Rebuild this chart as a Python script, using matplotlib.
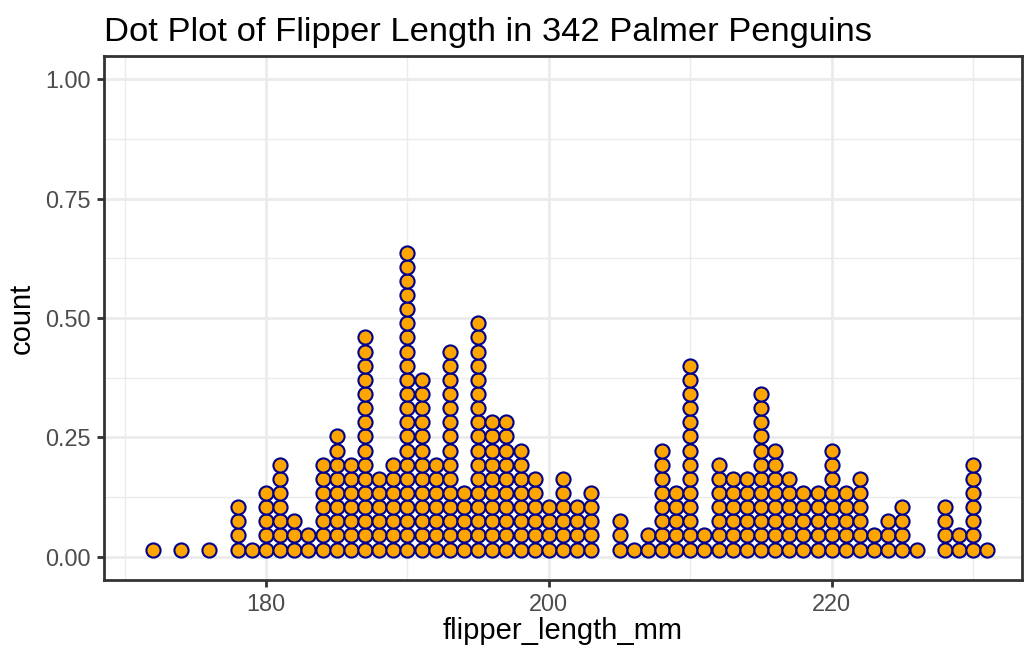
import numpy as np
import matplotlib
matplotlib.use("Agg")
import matplotlib.pyplot as plt
from matplotlib.ticker import MultipleLocator

plt.rcParams['font.family'] = ['Liberation Sans', 'DejaVu Sans']

# flipper length (mm) and how many penguins have it
flipper_mm = [172, 174, 176, 178, 179, 180, 181, 182, 183, 184, 185, 186, 187, 188,
              189, 190, 191, 192, 193, 194, 195, 196, 197, 198, 199, 200, 201, 202,
              203, 205, 206, 207, 208, 209, 210, 211, 212, 213, 214, 215, 216, 217,
              218, 219, 220, 221, 222, 223, 224, 225, 226, 228, 229, 230, 231]
counts = [1, 1, 1, 4, 1, 5, 7, 3, 2, 7, 9, 7, 16, 6,
          7, 22, 13, 7, 15, 5, 17, 10, 10, 8, 6, 4, 6, 4,
          5, 3, 1, 2, 8, 5, 14, 2, 7, 6, 6, 12, 8, 6,
          5, 5, 8, 5, 6, 2, 3, 4, 1, 4, 2, 7, 1]
binwidth = 1

x_ticks = [180, 200, 220]
y_ticks = [0.00, 0.25, 0.50, 0.75, 1.00]

W, H = 1026, 653
fig = plt.figure(figsize=(W / 100, H / 100), dpi=100)
left, right, top, bottom = 104, 1022, 56, 580
ax = fig.add_axes([left / W, 1 - bottom / H, (right - left) / W, (bottom - top) / H])

xlim = (168.55, 233.45)
ylim = (-0.0488, 1.0488)
ax.set_xlim(*xlim)
ax.set_ylim(*ylim)

# dot diameter in y units, same as one binwidth on the x scale
px_x = (right - left) / (xlim[1] - xlim[0])
px_y = (bottom - top) / (ylim[1] - ylim[0])
d = binwidth * px_x / px_y

xs, ys = [], []
for x, n in zip(flipper_mm, counts):
    for k in range(n):
        xs.append(x)
        ys.append((k + 0.5) * d)

dot_pt = binwidth * px_x * 0.72
ax.plot(xs, ys, 'o', ms=dot_pt, mfc='#FFA500', mec='#00008B', mew=1.5,
        linestyle='none', zorder=3, clip_on=False)

# theme_bw look
ax.set_xticks(x_ticks)
ax.set_yticks(y_ticks)
ax.set_yticklabels([f"{v:.2f}" for v in y_ticks])
ax.xaxis.set_minor_locator(MultipleLocator(10))
ax.yaxis.set_minor_locator(MultipleLocator(0.125))
ax.grid(which='major', color='#EBEBEB', linewidth=2.0, zorder=0)
ax.grid(which='minor', color='#EBEBEB', linewidth=1.0, zorder=0)
ax.set_axisbelow(True)
for s in ax.spines.values():
    s.set_color('#333333')
    s.set_linewidth(2.0)
ax.tick_params(which='major', length=5.3, width=2.0, color='#333333',
               labelsize=16.9, labelcolor='#4D4D4D', pad=4)
ax.tick_params(which='minor', length=0)

ax.set_xlabel("flipper_length_mm", fontsize=21, labelpad=1)
ax.set_ylabel("count", fontsize=21, labelpad=7)
fig.text(left / W, 1 - 41 / H, "Dot Plot of Flipper Length in 342 Palmer Penguins",
         fontsize=24.8, ha='left', va='baseline')

fig.savefig("out.png", dpi=100)
